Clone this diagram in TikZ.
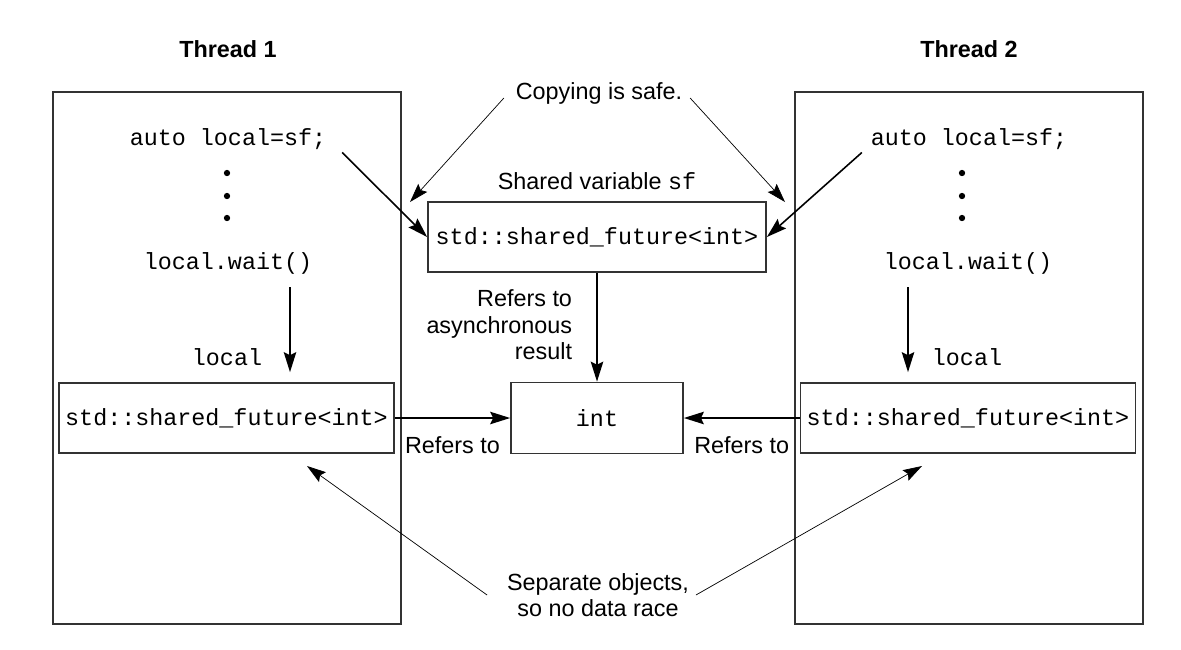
\documentclass[tikz,border=0pt]{standalone}
\usepackage{fontspec}
\setmainfont{Liberation Sans}
\setmonofont{Liberation Mono}
\usetikzlibrary{arrows.meta}

\begin{document}
\begin{tikzpicture}[
    every node/.style={inner sep=1.5pt, font=\fontsize{13.3}{15}\selectfont},
    frame/.style={draw=black!80, line width=1pt},
    code/.style={font=\fontsize{13.3}{15}\selectfont\ttfamily},
    dot/.style={circle, fill, minimum size=3.6pt, inner sep=0pt},
    thickarr/.style={line width=0.9pt, -{Stealth[length=4mm, width=2.5mm, inset=0.6mm]}},
    thinarr/.style={line width=0.4pt, -{Stealth[length=3.8mm, width=2.4mm, inset=0.6mm]}}
  ]
    \useasboundingbox (0,0) rectangle (23.62,-12.98);

    % the two threads
    \node (t1) at (4.56,-0.98) {\bfseries Thread 1};
    \node (t2) at (19.38,-0.98) {\bfseries Thread 2};
    \node (thr1) at (4.54,-7.16) [frame, minimum width=6.96cm, minimum height=10.64cm] {};
    \node (thr2) at (19.38,-7.16) [frame, minimum width=6.96cm, minimum height=10.64cm] {};

    \node (auto1) at (4.56,-2.78) [code] {auto local=sf;};
    \node (auto2) at (19.38,-2.78) [code] {auto local=sf;};

    \node (d11) at (4.54,-3.46) [dot] {};
    \node (d12) at (4.54,-3.92) [dot] {};
    \node (d13) at (4.54,-4.36) [dot] {};
    \node (d21) at (19.24,-3.46) [dot] {};
    \node (d22) at (19.24,-3.92) [dot] {};
    \node (d23) at (19.24,-4.36) [dot] {};

    \node (wait1) at (4.56,-5.26) [code] {local.wait()};
    \node (wait2) at (19.36,-5.26) [code] {local.wait()};

    \node (loc1) at (4.54,-7.14) [code] {local};
    \node (loc2) at (19.34,-7.14) [code] {local};

    \node (in1) at (4.53,-8.36) [frame, code, minimum width=6.7cm, minimum height=1.4cm] {std::shared\_future<int>};
    \node (in2) at (19.36,-8.36) [frame, code, minimum width=6.7cm, minimum height=1.4cm] {std::shared\_future<int>};

    % shared state in the middle
    \node (copy) at (11.98,-1.86) {Copying is safe.};
    \node (shlab) at (11.94,-3.62) {Shared variable \texttt{sf}};
    \node (sh) at (11.94,-4.74) [frame, code, minimum width=6.76cm, minimum height=1.4cm] {std::shared\_future<int>};
    \node (async) at (11.5,-6.5) [anchor=east, align=right] {Refers to\\asynchronous\\result};
    \node (int) at (11.94,-8.36) [frame, code, minimum width=3.44cm, minimum height=1.42cm] {int};
    \node (sep) at (11.96,-11.9) [align=center] {Separate objects,\\so no data race};

    \coordinate (c1) at (8.2,-4.04);
    \coordinate (c2) at (15.7,-4.04);
    \coordinate (r1) at (6.14,-9.32);
    \coordinate (r2) at (18.44,-9.32);
    \coordinate (s1) at (5.8,-5.74);
    \coordinate (s2) at (18.16,-5.74);

    \draw[thickarr] ([xshift=0.26cm]auto1.south east) -- (sh.west);
    \draw[thickarr] ([xshift=-0.12cm]auto2.south west) -- (sh.east);
    \draw[thickarr, shorten >=0.2cm] (s1) -- (s1 |- in1.north);
    \draw[thickarr, shorten >=0.2cm] (s2) -- (s2 |- in2.north);
    \draw[thickarr] (sh) -- (int);
    \draw[thickarr] (in1) -- (int) node[midway, below=0.3cm] {Refers to};
    \draw[thickarr] (in2) -- (int) node[midway, below=0.3cm] {Refers to};

    \draw[thinarr] ([xshift=-0.18cm, yshift=-0.1cm]copy.west) -- (c1);
    \draw[thinarr] ([xshift=0.1cm, yshift=-0.1cm]copy.east) -- (c2);
    \draw[thinarr] ([xshift=-0.34cm]sep.west) -- (r1);
    \draw[thinarr] ([xshift=0.08cm]sep.east) -- (r2);
  \end{tikzpicture}
\end{document}
